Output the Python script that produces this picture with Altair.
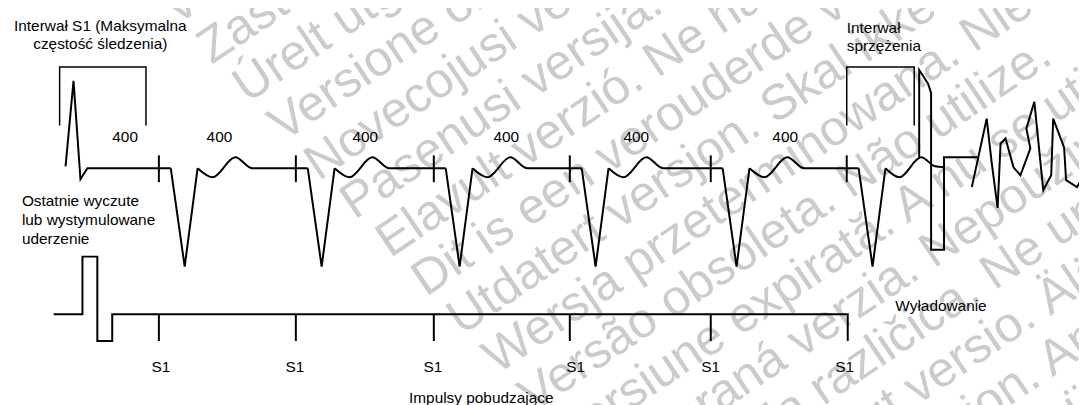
import altair as alt
import pandas as pd

# ---------------- data (reference-pixel coordinates of the diagram) ----------------
spike_x = [66, 74, 81, 88, 172]
spike_y = [166, 80, 179, 168, 168]

qrs_x = [[172, 186, 199], [310, 324, 337], [449, 463, 476],
         [586, 600, 613], [728, 742, 755], [865, 879, 892]]
qrs_y = [[168, 267, 168]] * 6

wave_x = [[199, 214, 237, 254, 310], [337, 352, 375, 392, 449],
          [476, 491, 514, 531, 586], [613, 628, 651, 668, 728],
          [755, 770, 793, 810, 865], [892, 906, 928, 942, 951]]
wave_y = [[168, 177, 157, 168, 168], [168, 177, 157, 168, 168],
          [168, 177, 157, 168, 168], [168, 177, 157, 168, 168],
          [168, 177, 157, 168, 168], [168, 177, 157, 166, 167]]

ecg_tick_x = [160, 298, 437, 574, 716, 853]
ecg_tick_top, ecg_tick_bot = 155, 182

shock_x = [926, 926, 930, 935, 938, 938, 951, 951, 985]
shock_y = [158, 69, 75, 83, 92, 250, 250, 157, 157]

vf_x = [979, 994, 999, 1005, 1008, 1013, 1021, 1028, 1038, 1034, 1042,
        1051, 1059, 1061, 1072, 1074, 1085, 1090]
vf_y = [187, 118, 162, 208, 143, 138, 167, 175, 148, 128, 101,
        190, 175, 118, 147, 180, 187, 178]

bracket1_x = [60, 60, 147, 147]
bracket1_y = [125, 66, 66, 125]
bracket2_x = [853, 853, 921, 921]
bracket2_y = [125, 66, 66, 125]

pace_x = [54, 83, 83, 98, 98, 113, 113, 854, 854]
pace_y = [315, 315, 257, 257, 342, 342, 315, 315, 342]
pace_tick_x = [160, 298, 437, 574, 716]
pace_tick_top, pace_tick_bot = 315, 342

interval_labels = ["400", "400", "400", "400", "400", "400"]
interval_x = [126, 221, 368, 510, 641, 791]
interval_y = 137
s1_labels = ["S1", "S1", "S1", "S1", "S1", "S1"]
s1_x = [162, 297, 436, 580, 716, 851]
s1_y = 368

# Background "outdated version" watermark lines
wm_text = [
    "Version périmée. Ne pas utiliser.",
    "Zastarjela verzija. Nemojte upotrebljavati.",
    "Úrelt útgáfa. Notið ekki.",
    "Versione obsoleta. Non utilizzare.",
    "Novecojusi versija. Neizmantot.",
    "Pasenusi versija. Nenaudokite.",
    "Elavult verzió. Ne használja!",
    "Dit is een verouderde versie. Niet gebruiken.",
    "Utdatert versjon. Skal ikke brukes.",
    "Wersja przeterminowana. Nie używać.",
    "Versão obsoleta. Não utilize.",
    "Versiune expirată. A nu se utiliza.",
    "Zastaraná verzia. Nepoužívať.",
    "Zastarela različica. Ne uporabite.",
    "Vanhentunut versio. Älä käytä.",
    "Föråldrad version. Använd ej.",
    "Güncel olmayan sürüm. Kullanmayın.",
]
wm_x = [177, 213, 249, 285, 321, 357, 393, 429, 465, 501, 537, 573, 609, 645, 681, 717, 753]
wm_y = [25, 64, 103, 142, 181, 220, 259, 298, 337, 376, 415, 454, 493, 532, 571, 610, 649]

# ---------------- build tables ----------------
rows_lin, rows_smooth, rows_thin = [], [], []

def add(rows, pid, xs, ys):
    for i, (x, y) in enumerate(zip(xs, ys)):
        rows.append({"pid": pid, "o": i, "x": x, "y": y})

add(rows_lin, "spike", spike_x, spike_y)
for k, (xs, ys) in enumerate(zip(qrs_x, qrs_y)):
    add(rows_lin, f"qrs{k}", xs, ys)
for k, (xs, ys) in enumerate(zip(wave_x, wave_y)):
    add(rows_smooth, f"wave{k}", xs, ys)
for k, x in enumerate(ecg_tick_x):
    add(rows_lin, f"et{k}", [x, x], [ecg_tick_top, ecg_tick_bot])
add(rows_lin, "shock", shock_x, shock_y)
add(rows_lin, "vf", vf_x, vf_y)
add(rows_lin, "pace", pace_x, pace_y)
for k, x in enumerate(pace_tick_x):
    add(rows_lin, f"pt{k}", [x, x], [pace_tick_top, pace_tick_bot])
add(rows_thin, "b1", bracket1_x, bracket1_y)
add(rows_thin, "b2", bracket2_x, bracket2_y)

texts = []
for t, x in zip(interval_labels, interval_x):
    texts.append({"t": t, "x": x, "y": interval_y, "al": "center"})
for t, x in zip(s1_labels, s1_x):
    texts.append({"t": t, "x": x, "y": s1_y, "al": "center"})
texts += [
    {"t": "Interwał S1 (Maksymalna", "x": 101, "y": 25, "al": "center"},
    {"t": "częstość śledzenia)", "x": 101, "y": 43, "al": "center"},
    {"t": "Ostatnie wyczute", "x": 22, "y": 201, "al": "left"},
    {"t": "lub wystymulowane", "x": 22, "y": 220, "al": "left"},
    {"t": "uderzenie", "x": 22, "y": 239, "al": "left"},
    {"t": "Interwał", "x": 853, "y": 27, "al": "left"},
    {"t": "sprzężenia", "x": 853, "y": 45, "al": "left"},
    {"t": "Wyładowanie", "x": 902, "y": 307, "al": "left"},
]
bottom_text = [{"t": "Impulsy pobudzające", "x": 412, "y": 404}]
wm_df = pd.DataFrame({"t": wm_text, "x": wm_x, "y": wm_y})

X = alt.X("x:Q", scale=alt.Scale(domain=[8, 1087], nice=False, zero=False), axis=None)
Y = alt.Y("y:Q", scale=alt.Scale(domain=[8, 405], nice=False, zero=False, reverse=True), axis=None)

wm = alt.Chart(wm_df).mark_text(
    font="Liberation Sans", fontSize=50, color="#cbcbcb", align="left",
    baseline="alphabetic", angle=326
).encode(x=X, y=Y, text="t:N")

lin = alt.Chart(pd.DataFrame(rows_lin)).mark_line(
    color="black", strokeWidth=2, strokeJoin="miter", strokeCap="butt"
).encode(x=X, y=Y, detail="pid:N", order="o:Q")

smooth = alt.Chart(pd.DataFrame(rows_smooth)).mark_line(
    color="black", strokeWidth=2, interpolate="monotone"
).encode(x=X, y=Y, detail="pid:N", order="o:Q")

thin = alt.Chart(pd.DataFrame(rows_thin)).mark_line(
    color="black", strokeWidth=1.5, strokeJoin="miter"
).encode(x=X, y=Y, detail="pid:N", order="o:Q")

tdf = pd.DataFrame(texts)
txt_c = alt.Chart(tdf[tdf.al == "center"]).mark_text(
    font="Liberation Sans", fontSize=15.5, color="black", align="center", baseline="middle"
).encode(x=X, y=Y, text="t:N")
txt_l = alt.Chart(tdf[tdf.al == "left"]).mark_text(
    font="Liberation Sans", fontSize=15.5, color="black", align="left", baseline="middle"
).encode(x=X, y=Y, text="t:N")
txt_b = alt.Chart(pd.DataFrame(bottom_text)).mark_text(
    font="Liberation Sans", fontSize=15.5, color="black", align="left", baseline="alphabetic"
).encode(x=X, y=Y, text="t:N")

chart = alt.layer(wm, lin, smooth, thin, txt_c, txt_l, txt_b).properties(
    width=1079, height=397,
    autosize=alt.AutoSizeParams(type="none"),
    padding=0,
).configure_view(stroke=None)

chart.save("out.html", embed_options={"renderer": "svg", "actions": False})
